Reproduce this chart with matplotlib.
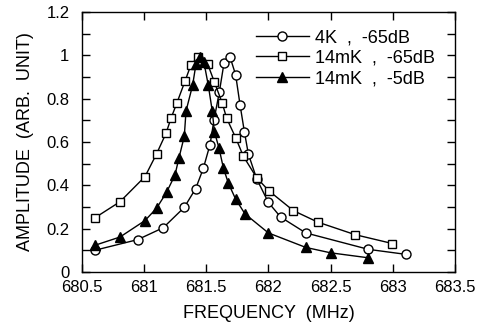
import numpy as np
import matplotlib.pyplot as plt
from matplotlib.ticker import MultipleLocator

# 4K, -65dB (circles)
f_4k = [680.605, 680.948, 681.154, 681.323, 681.415, 681.476, 681.53, 681.562,
        681.605, 681.642, 681.69, 681.736, 681.771, 681.806, 681.838, 681.905,
        681.999, 682.098, 682.30, 682.804, 683.104]
a_4k = [0.100, 0.149, 0.204, 0.298, 0.385, 0.478, 0.588, 0.702,
        0.831, 0.963, 0.994, 0.910, 0.773, 0.648, 0.545, 0.430,
        0.321, 0.253, 0.180, 0.104, 0.081]

# 14mK, -65dB (squares)
f_14_65 = [680.605, 680.806, 681.007, 681.10, 681.176, 681.216, 681.262, 681.329,
           681.377, 681.436, 681.511, 681.565, 681.629, 681.664, 681.736, 681.798,
           681.905, 682.004, 682.20, 682.396, 682.696, 682.996]
a_14_65 = [0.250, 0.324, 0.440, 0.545, 0.640, 0.709, 0.778, 0.881,
           0.957, 0.994, 0.960, 0.877, 0.778, 0.709, 0.620, 0.534,
           0.435, 0.374, 0.283, 0.230, 0.172, 0.131]

# 14mK, -5dB (filled triangles)
f_14_5 = [680.605, 680.806, 681.007, 681.10, 681.18, 681.248, 681.28, 681.323,
          681.337, 681.39, 681.417, 681.449, 681.481, 681.516, 681.548, 681.565,
          681.602, 681.637, 681.677, 681.736, 681.811, 681.999, 682.30, 682.50,
          682.804]
a_14_5 = [0.123, 0.161, 0.237, 0.294, 0.367, 0.447, 0.526, 0.626,
          0.743, 0.862, 0.960, 0.994, 0.968, 0.862, 0.743, 0.648,
          0.572, 0.481, 0.410, 0.336, 0.268, 0.180, 0.113, 0.088,
          0.065]

plt.rcParams['font.family'] = ['Liberation Sans', 'DejaVu Sans']

fig = plt.figure(figsize=(4.82, 3.26), dpi=100)
ax = fig.add_axes([0.170, 0.166, 0.774, 0.797])

ax.plot(f_4k, a_4k, '-o', color='black', mfc='white', mec='black', ms=6.5, lw=1,
        label='4K  ,  -65dB')
ax.plot(f_14_65, a_14_65, '-s', color='black', mfc='white', mec='black', ms=6, lw=1,
        label='14mK  ,  -65dB')
ax.plot(f_14_5, a_14_5, '-^', color='black', mfc='black', mec='black', ms=6.5, lw=1,
        label='14mK  ,  -5dB')

ax.set_xlim(680.5, 683.5)
ax.set_ylim(0, 1.2)
ax.set_xticks(np.arange(680.5, 683.51, 0.5))
ax.set_xticklabels(['680.5', '681', '681.5', '682', '682.5', '683', '683.5'])
ax.set_yticks(np.arange(0, 1.21, 0.2))
ax.set_yticklabels(['0', '0.2', '0.4', '0.6', '0.8', '1', '1.2'])
ax.yaxis.set_minor_locator(MultipleLocator(0.1))
ax.tick_params(which='both', direction='in', top=True, right=True, labelsize=12, width=1)
ax.tick_params(which='major', length=6)
ax.tick_params(axis='y', which='major', pad=9)
ax.tick_params(axis='x', which='major', pad=6)
ax.tick_params(which='minor', length=6)
for s in ax.spines.values():
    s.set_linewidth(1)

ax.set_xlabel('FREQUENCY  (MHz)', fontsize=13, labelpad=7)
ax.set_ylabel('AMPLITUDE  (ARB.  UNIT)', fontsize=13, labelpad=9)

ax.legend(loc='upper right', frameon=False, fontsize=13, handlelength=2.9,
          handletextpad=0.35, labelspacing=0.2, borderaxespad=0.4,
          bbox_to_anchor=(0.985, 0.99))

fig.savefig('out.png', dpi=100)
